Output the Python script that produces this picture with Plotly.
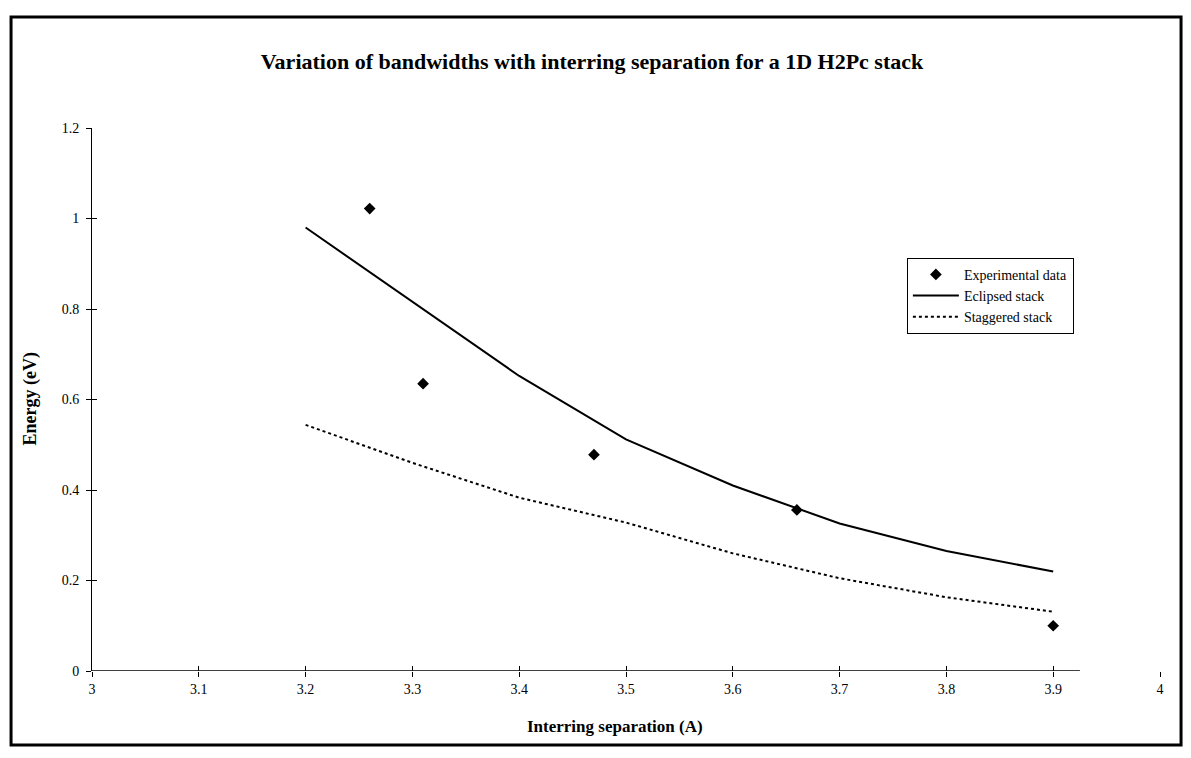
import plotly.graph_objects as go

# experimental bandwidths
exp_x = [3.26, 3.31, 3.47, 3.66, 3.90]
exp_y = [1.022, 0.635, 0.478, 0.356, 0.100]

# calculated bandwidths
calc_x = [3.2, 3.3, 3.4, 3.5, 3.6, 3.7, 3.8, 3.9]
eclipsed = [0.980, 0.815, 0.652, 0.512, 0.410, 0.326, 0.265, 0.220]
staggered = [0.544, 0.460, 0.383, 0.328, 0.260, 0.205, 0.163, 0.131]

x_ticks = [3, 3.1, 3.2, 3.3, 3.4, 3.5, 3.6, 3.7, 3.8, 3.9, 4]
y_ticks = [0, 0.2, 0.4, 0.6, 0.8, 1, 1.2]

serif = "Liberation Serif, Times New Roman, serif"

# the page body has an 8px margin all round; keep the figure inside the window
W, H = 1175, 742

fig = go.Figure()
fig.add_trace(go.Scatter(x=exp_x, y=exp_y, mode="markers", name="Experimental data",
                         marker=dict(symbol="diamond", size=9, color="black")))
fig.add_trace(go.Scatter(x=calc_x, y=eclipsed, mode="lines", name="Eclipsed stack",
                         line=dict(color="black", width=2)))
fig.add_trace(go.Scatter(x=calc_x, y=staggered, mode="lines", name="Staggered stack",
                         line=dict(color="black", width=2, dash="dot")))
# invisible copy on overlay axes, only so the inner half of the cross ticks is drawn
fig.add_trace(go.Scatter(x=exp_x, y=exp_y, mode="markers", xaxis="x2", yaxis="y2",
                         marker=dict(opacity=0), showlegend=False, hoverinfo="skip"))

tickfont = dict(family=serif, size=14, color="black")
fig.update_layout(
    width=W, height=H,
    margin=dict(l=84, r=23, t=120, b=79),
    paper_bgcolor="white", plot_bgcolor="white",
    font=dict(family=serif, color="black"),
    title=dict(text="<b>Variation of bandwidths with interring separation for a 1D H2Pc stack</b>",
               x=584 / W, xanchor="center", y=1 - 53 / H, yanchor="middle",
               font=dict(family=serif, size=22, color="black")),
    xaxis=dict(range=[3, 4], tickvals=x_ticks, ticktext=[f"{v:g}" for v in x_ticks],
               showgrid=False, zeroline=False, showline=False,
               ticks="outside", ticklen=5, tickcolor="black", tickfont=tickfont),
    yaxis=dict(range=[0, 1.2], tickvals=y_ticks, ticktext=[f"{v:g}" for v in y_ticks],
               showgrid=False, zeroline=False, showline=True, linecolor="black", linewidth=1,
               ticks="outside", ticklen=5, tickcolor="black", tickfont=tickfont,
               ticklabelstandoff=4),
    xaxis2=dict(range=[3, 4], tickvals=x_ticks, overlaying="x", showticklabels=False,
                showgrid=False, zeroline=False, ticks="inside", ticklen=5, tickcolor="black"),
    yaxis2=dict(range=[0, 1.2], tickvals=y_ticks, overlaying="y", showticklabels=False,
                showgrid=False, zeroline=False, ticks="inside", ticklen=5, tickcolor="black"),
    legend=dict(x=0.763, y=0.761, xanchor="left", yanchor="top",
                bgcolor="white", bordercolor="black", borderwidth=1,
                font=dict(family=serif, size=14, color="black"),
                tracegroupgap=0, itemwidth=46),
    showlegend=True,
)

# x axis line stops short of 4, as in the original
fig.add_shape(type="line", xref="x", yref="y", x0=3, x1=3.925, y0=0, y1=0,
              line=dict(color="black", width=1.5))
# outer frame of the chart area
fig.add_shape(type="rect", xref="paper", yref="paper",
              x0=-0.0758, x1=1.0197, y0=-0.1363, y1=1.2044,
              line=dict(color="black", width=3))

fig.add_annotation(text="<b>Energy (eV)</b>", xref="paper", yref="paper",
                   x=-0.058, y=0.5, textangle=-90, showarrow=False,
                   xanchor="center", yanchor="middle",
                   font=dict(family=serif, size=18, color="black"))
fig.add_annotation(text="<b>Interring separation (A)</b>", xref="paper", yref="paper",
                   x=0.49, y=-0.103, showarrow=False, xanchor="center", yanchor="middle",
                   font=dict(family=serif, size=17, color="black"))

fig.write_html("out.html")
